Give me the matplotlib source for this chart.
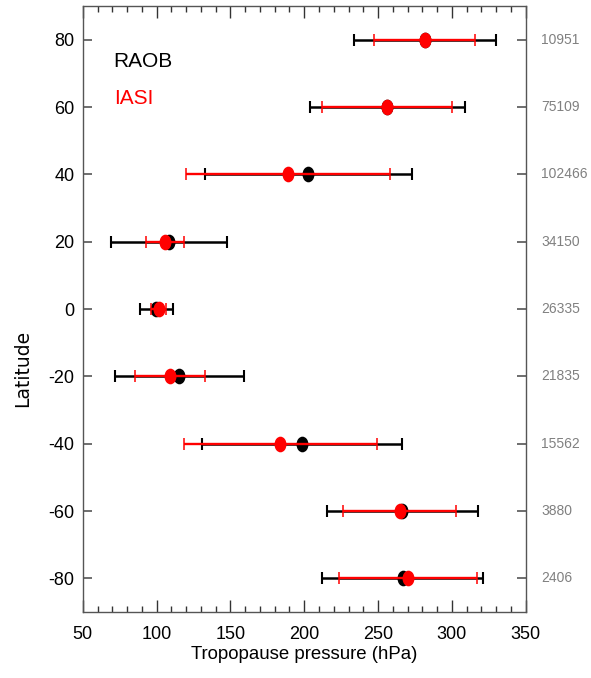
import matplotlib
matplotlib.use("Agg")
import matplotlib.pyplot as plt
from matplotlib.markers import MarkerStyle
from matplotlib.transforms import Affine2D
from matplotlib.ticker import MultipleLocator

# latitude bands and tropopause pressure statistics (hPa)
lats = [80, 60, 40, 20, 0, -20, -40, -60, -80]
raob_mean = [281.6, 256.3, 202.8, 108.3, 99.9, 115.5, 198.4, 266.5, 266.6]
raob_sd = [48.1, 52.6, 70.2, 39.3, 11.0, 43.4, 67.6, 51.0, 54.3]
iasi_mean = [281.6, 256.3, 189.0, 105.8, 101.5, 109.3, 183.8, 264.6, 270.3]
iasi_sd = [34.3, 44.0, 68.8, 12.9, 5.0, 23.6, 65.2, 38.5, 46.5]
counts = ["10951", "75109", "102466", "34150", "26335", "21835", "15562", "3880", "2406"]

plt.rcParams["axes.unicode_minus"] = False
font = ["Liberation Sans", "DejaVu Sans"]

fig = plt.figure(figsize=(5.91, 6.78), dpi=100)
ax = fig.add_axes([0.140, 0.0973, 0.7495, 0.8938])

# slightly tall ellipse markers like the original
mk = MarkerStyle("o", transform=Affine2D().scale(1.0, 1.35))

ax.errorbar(raob_mean, lats, xerr=raob_sd, fmt="none", ecolor="black",
            elinewidth=1.8, capsize=4.3, capthick=1.5, zorder=2)
ax.plot(raob_mean, lats, linestyle="none", marker=mk, markersize=7.6,
        color="black", zorder=3)
ax.errorbar(iasi_mean, lats, xerr=iasi_sd, fmt="none", ecolor="red",
            elinewidth=1.7, capsize=4.3, capthick=1.1, zorder=4)
ax.plot(iasi_mean, lats, linestyle="none", marker=mk, markersize=7.6,
        color="red", zorder=5)

ax.set_xlim(50, 350)
ax.set_ylim(-90, 90)
ax.xaxis.set_major_locator(MultipleLocator(50))
ax.xaxis.set_minor_locator(MultipleLocator(10))
ax.yaxis.set_major_locator(MultipleLocator(20))

for s in ax.spines.values():
    s.set_color("#555555")
    s.set_linewidth(1.0)

ax.tick_params(axis="x", which="major", direction="in", length=8.6, width=1,
               top=True, color="#333333", pad=10, labelsize=13)
ax.tick_params(axis="x", which="minor", direction="in", length=4.3, width=1,
               top=True, color="#333333")
ax.tick_params(axis="y", which="major", direction="in", length=6.5, width=1.2,
               right=True, color="#555555", pad=6, labelsize=13)
for lab in ax.get_xticklabels() + ax.get_yticklabels():
    lab.set_family(font)

ax.set_xlabel("Tropopause pressure (hPa)", fontsize=13.4, family=font, labelpad=2)
fig.text(0.039, 0.456, "Latitude", rotation=90, ha="center", va="center",
         fontsize=13.5, family="DejaVu Sans")

ax.text(71, 73.4, "RAOB", color="black", fontsize=15, family=font,
        ha="left", va="center")
ax.text(71, 62.6, "IASI", color="red", fontsize=15, family=font,
        ha="left", va="center")

# number of collocations per latitude band
tr = ax.get_yaxis_transform()
for lat, n in zip(lats, counts):
    ax.text(1.035, lat, n, transform=tr, ha="left", va="center",
            fontsize=10, color="#808080", family=font)

fig.savefig("out.png", dpi=100)
